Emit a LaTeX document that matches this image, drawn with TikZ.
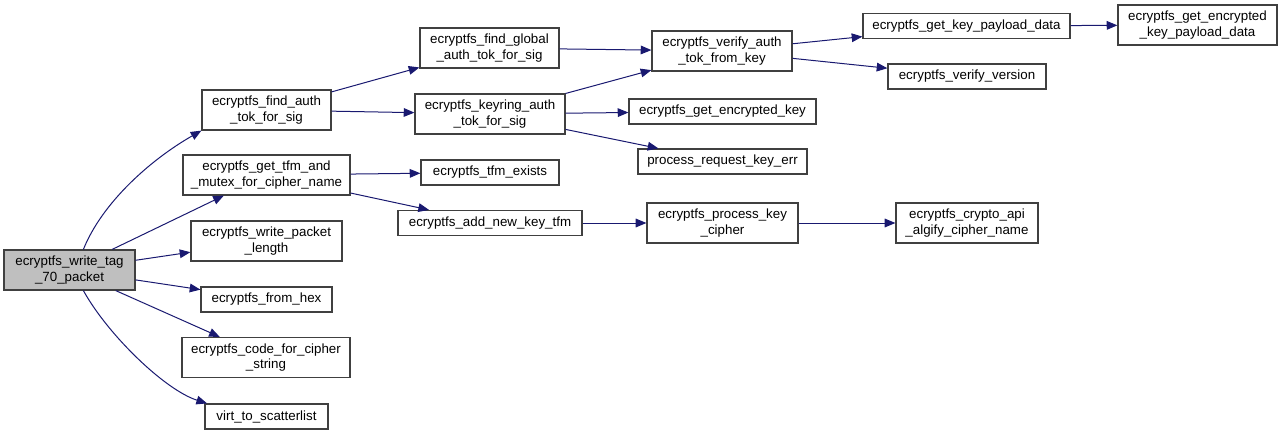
\documentclass[tikz,border=0pt]{standalone}
\usepackage{fontspec}
\setmainfont{Liberation Sans}
\usetikzlibrary{arrows,arrows.meta}
\usetikzlibrary{calc}
\definecolor{boxline}{HTML}{404040}
\definecolor{edge}{HTML}{191970}
\definecolor{rootfill}{HTML}{BFBFBF}
\tikzset{>={Triangle[length=8pt,width=6.5pt]}}
\tikzstyle{call} = [%
					line width = 0.75, 
					color = edge,
					->]
\tikzstyle{rootfn} = [%
					fill = rootfill]

\begin{document}
\begin{tikzpicture}[x=0.75pt,y=-0.75pt,fn/.style args={#1,#2}{draw=boxline,rectangle,line width=0.9pt,inner sep=0pt,align=center,font=\fontsize{10}{11.5}\selectfont,minimum width=#1*0.75pt,minimum height=#2*0.75pt}]
	
	\useasboundingbox (0,0) rectangle (1283,435);
	
	% Nodes
	%% Caller
	\node[fn={131,40}, rootfn] (wtag) at (69.5,270) {ecryptfs\_write\_tag\\\_70\_packet};
	%% First level
	\node[fn={129,40}] (findauth)   at (266.5,110)   {ecryptfs\_find\_auth\\\_tok\_for\_sig};
	\node[fn={167,40}] (gettfm)     at (266.5,175)   {ecryptfs\_get\_tfm\_and\\\_mutex\_for\_cipher\_name};
	\node[fn={151,40}] (writelen)   at (266.5,241)   {ecryptfs\_write\_packet\\\_length};
	\node[fn={131,25}] (fromhex)    at (266.5,299.5) {ecryptfs\_from\_hex};
	\node[fn={168,40}] (codecipher) at (266,357.5)   {ecryptfs\_code\_for\_cipher\\\_string};
	\node[fn={123,25}] (virt)       at (266.5,416.5) {virt\_to\_scatterlist};
	%% Second level
	\node[fn={139,40}] (findglobal) at (489.5,48)    {ecryptfs\_find\_global\\\_auth\_tok\_for\_sig};
	\node[fn={150,40}] (keyring)    at (490,114)     {ecryptfs\_keyring\_auth\\\_tok\_for\_sig};
	\node[fn={138,25}] (tfmexists)  at (490,172.5)   {ecryptfs\_tfm\_exists};
	\node[fn={184,25}] (addkey)     at (490,223)     {ecryptfs\_add\_new\_key\_tfm};
	%% Third level
	\node[fn={140,40}] (verifyauth) at (722,51)      {ecryptfs\_verify\_auth\\\_tok\_from\_key};
	\node[fn={187,25}] (getenckey)  at (722.5,111.5) {ecryptfs\_get\_encrypted\_key};
	\node[fn={169,25}] (procerr)    at (722.5,161.5) {process\_request\_key\_err};
	\node[fn={151,40}] (prockey)    at (722.5,223)   {ecryptfs\_process\_key\\\_cipher};
	%% Fourth level
	\node[fn={207,25}] (getpayload) at (966.5,26)    {ecryptfs\_get\_key\_payload\_data};
	\node[fn={158,25}] (verver)     at (967,76.5)    {ecryptfs\_verify\_version};
	\node[fn={142,40}] (algify)     at (967,223)     {ecryptfs\_crypto\_api\\\_algify\_cipher\_name};
	%% Fifth level
	\node[fn={159,40}] (encpayload) at (1197.5,25)   {ecryptfs\_get\_encrypted\\\_key\_payload\_data};
	
	% Calls
	\draw[call] (wtag.56) .. controls (102,203) and (150,160) .. (findauth.south west);
	\draw[call] (wtag) -- (gettfm);
	\draw[call] (wtag) -- (writelen);
	\draw[call] (wtag) -- (fromhex);
	\draw[call] (wtag) -- (codecipher);
	\draw[call] (wtag.-56) .. controls (108,335) and (165,390) .. ([xshift=2pt]virt.north west);
	
	\draw[call] (findauth) -- (findglobal);
	\draw[call] (findauth) -- (keyring);
	\draw[call] (gettfm) -- (tfmexists);
	\draw[call] (gettfm) -- (addkey);
	
	\draw[call] (findglobal) -- (verifyauth);
	\draw[call] (keyring) -- (verifyauth);
	\draw[call] (keyring) -- (getenckey);
	\draw[call] (keyring) -- (procerr);
	\draw[call] (addkey) -- (prockey);
	
	\draw[call] (verifyauth) -- (getpayload);
	\draw[call] (verifyauth) -- (verver);
	\draw[call] (prockey) -- (algify);
	
	\draw[call] (getpayload) -- (encpayload);
\end{tikzpicture}
\end{document}
